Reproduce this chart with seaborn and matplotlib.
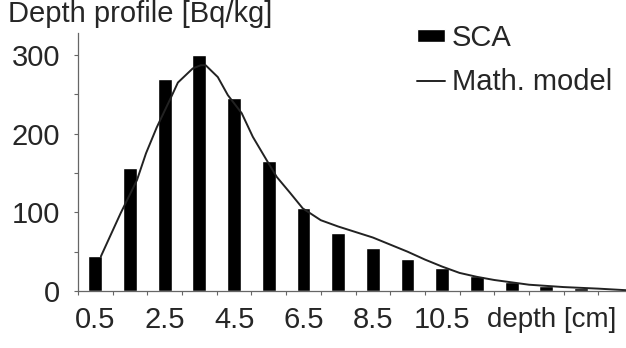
import matplotlib
matplotlib.use("Agg")
import matplotlib.pyplot as plt
import seaborn as sns
import pandas as pd

# measured activity per depth layer (SCA)
depth = [0.5, 1.5, 2.5, 3.5, 4.5, 5.5, 6.5, 7.5, 8.5, 9.5, 10.5, 11.5, 12.5, 13.5, 14.5]
sca = [44, 156, 269, 300, 246, 165, 105, 74, 55, 41, 29, 19, 12, 6, 4]

# mathematical model curve
model_depth = [0.66, 1.23, 1.7, 1.96, 2.27, 2.68, 2.88, 3.31, 3.54, 3.68, 4.03, 4.32, 4.72,
               5.04, 5.47, 5.73, 6.11, 6.48, 7.0, 7.5, 8.0, 8.5, 9.0, 9.5, 10.0, 10.5,
               11.0, 11.5, 12.0, 12.5, 13.0, 14.0, 15.0, 15.8]
model = [44, 99, 141, 175, 208, 246, 265, 283, 287, 287, 272, 249, 226,
         196, 164, 145, 125, 105, 90, 82, 75, 68, 59, 50, 40, 31,
         23, 18, 14, 11, 8, 5, 3, 1]

xlabels = ["0.5", "2.5", "4.5", "6.5", "8.5", "10.5"]

df_bar = pd.DataFrame({"depth": depth, "value": sca})
df_line = pd.DataFrame({"depth": model_depth, "value": model})

sns.set_style("ticks")
plt.rcParams["font.family"] = ["Liberation Sans", "DejaVu Sans"]
fs = 21

fig = plt.figure(figsize=(6.26, 3.48), dpi=100)
ax = fig.add_axes([78 / 626, 57 / 348, 555 / 626, 258 / 348])

sns.barplot(data=df_bar, x="depth", y="value", native_scale=True, width=0.4,
            color="black", saturation=1, label="SCA", ax=ax)
sns.lineplot(data=df_line, x="depth", y="value", color="#222222", linewidth=1.4,
             label="Math. model", ax=ax)

ax.set_xlim(0, 16)
ax.set_ylim(0, 328)
ax.set_xlabel("")
ax.set_ylabel("")

# y axis ticks
ax.set_yticks(range(0, 301, 50))
ax.set_yticklabels(["0", "", "100", "", "200", "", "300"], fontsize=fs)
ax.tick_params(axis="y", length=3, width=0.8, color="#666666", pad=10)

# x axis: boundary ticks + labels between
ax.set_xticks(range(0, 17))
ax.set_xticklabels([])
ax.tick_params(axis="x", which="major", length=3, width=0.8, color="#666666")
ax.set_xticks([0.5, 2.5, 4.5, 6.5, 8.5, 10.5], minor=True)
ax.set_xticklabels(xlabels, minor=True, fontsize=fs)
ax.tick_params(axis="x", which="minor", length=0, pad=11)

for side in ["top", "right"]:
    ax.spines[side].set_visible(False)
for side in ["left", "bottom"]:
    ax.spines[side].set_color("#666666")
    ax.spines[side].set_linewidth(0.9)

# axis title placed after the last tick label
ax.text(11.8, -29 / 258, "depth [cm]", transform=ax.get_xaxis_transform(),
        fontsize=20, ha="left", va="center")

fig.text(8 / 626, 1 - 14 / 348, "Depth profile [Bq/kg]", fontsize=fs,
         ha="left", va="center")

handles, labels = ax.get_legend_handles_labels()
order = [labels.index("SCA"), labels.index("Math. model")]
ax.legend([handles[i] for i in order], [labels[i] for i in order],
          loc="upper left", bbox_to_anchor=(417 / 626, 1 - 24 / 348),
          bbox_transform=fig.transFigure, frameon=False, fontsize=fs,
          handlelength=0.95, handleheight=0.35, handletextpad=0.25,
          labelspacing=0.55, borderpad=0, borderaxespad=0)

fig.savefig("out.png", dpi=100)
